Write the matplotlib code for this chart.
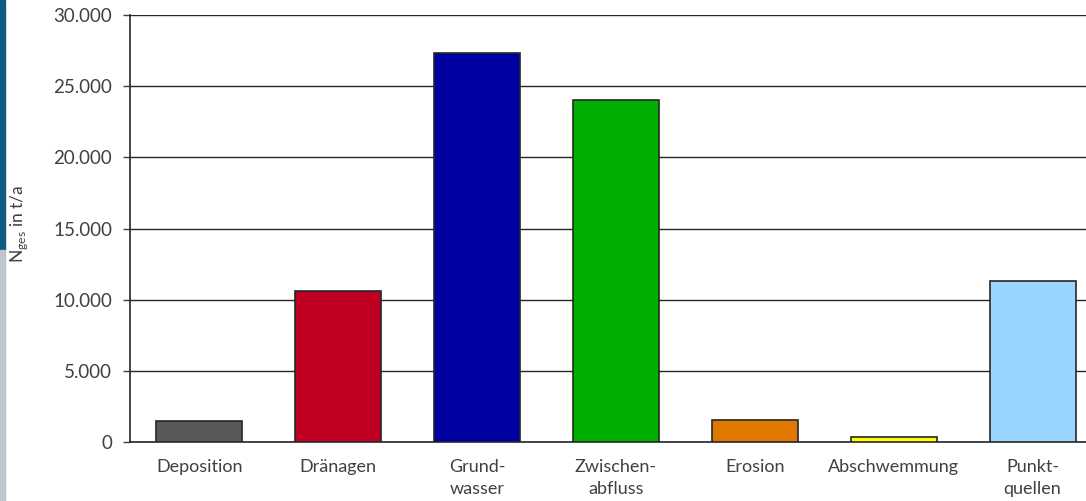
import matplotlib
matplotlib.use("Agg")
import matplotlib.pyplot as plt
from matplotlib.patches import Rectangle
from matplotlib.ticker import FuncFormatter

categories = ["Deposition", "Dränagen", "Grund-\nwasser", "Zwischen-\nabfluss",
              "Erosion", "Abschwemmung", "Punkt-\nquellen"]
values = [1500, 10600, 27300, 24000, 1550, 350, 11300]
colors = ["#595959", "#c00022", "#0000a0", "#00b000", "#e07800", "#ffff00", "#99d5ff"]

plt.rcParams['font.family'] = ['Lato', 'DejaVu Sans']

fig = plt.figure(figsize=(10.86, 5.01), dpi=100)
W, H = 1086, 501
ax = fig.add_axes([130 / W, 1 - 442 / H, (1102 - 130) / W, (442 - 15) / H])

x = range(len(categories))
ax.bar(x, values, width=0.62, color=colors, edgecolor="#262626", linewidth=1.2, zorder=3)

ax.set_xlim(-0.5, 6.5)
ax.set_ylim(0, 30000)
ax.set_yticks(range(0, 30001, 5000))
ax.yaxis.set_major_formatter(FuncFormatter(lambda v, p: f"{int(v):,}".replace(",", ".")))
ax.grid(axis="y", color="#262626", linewidth=1.0, zorder=0)
ax.set_axisbelow(True)

ax.set_xticks(list(x))
ax.set_xticklabels(categories, fontsize=13, color="#404040", linespacing=1.45)
ax.tick_params(axis="x", length=0, pad=12)
ax.tick_params(axis="y", length=5, width=1, color="#404040", labelsize=13.5,
               labelcolor="#404040", pad=8)

for s in ["top", "right"]:
    ax.spines[s].set_visible(False)
for s in ["left", "bottom"]:
    ax.spines[s].set_color("#262626")
    ax.spines[s].set_linewidth(1.2)

fig.text(19 / W, 1 - 224 / H, r"N$_{\mathregular{ges}}$ in t/a", rotation=90,
         ha="center", va="center", fontsize=12.5, color="#404040")

# slide decoration strip on the left edge
fig.patches.append(Rectangle((0, 1 - 250 / H), 5 / W, 250 / H, transform=fig.transFigure,
                             color="#0f5a7e", zorder=10))
fig.patches.append(Rectangle((0, 0), 5 / W, 1 - 250 / H, transform=fig.transFigure,
                             color="#c0c4cc", zorder=10))

fig.savefig("out.png", dpi=100)
